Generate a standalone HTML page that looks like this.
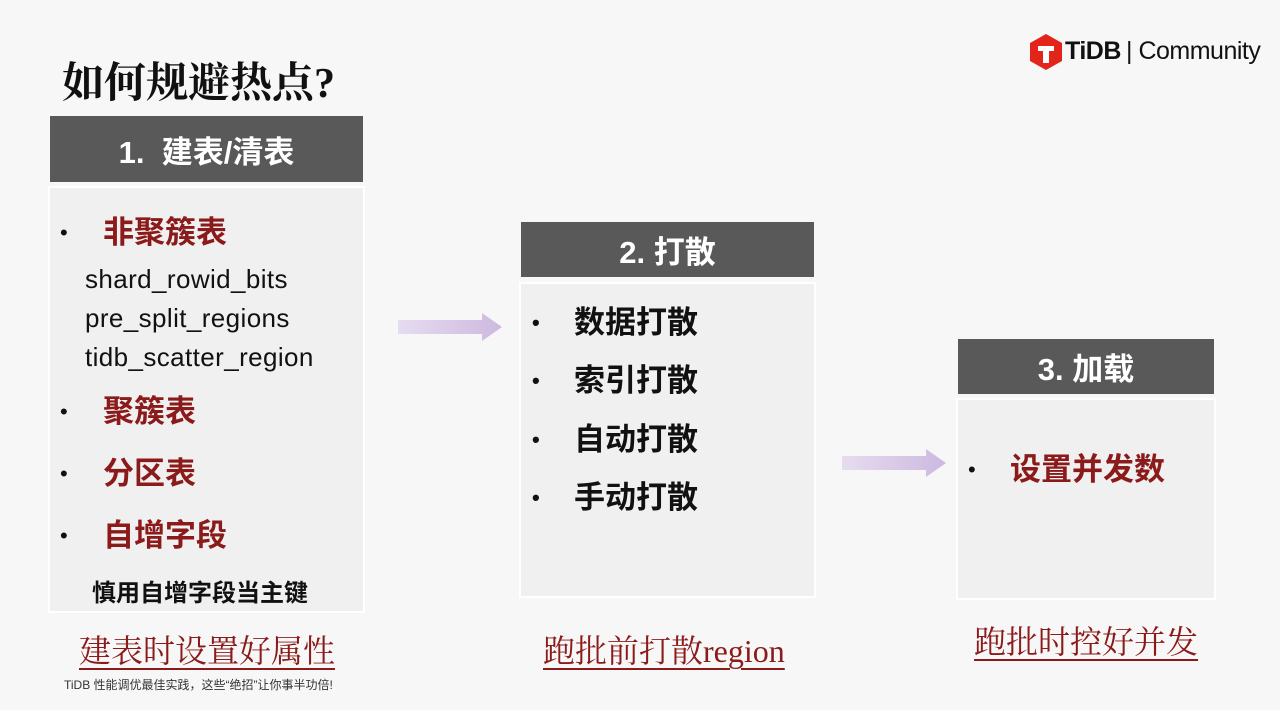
<html><head><style>
body{margin:0;width:1280px;height:710px;background:#f7f7f7;position:relative;overflow:hidden;font-family:"Liberation Sans","Noto Sans CJK SC",sans-serif}
.a{position:absolute}
.h{background:#595959;color:#fff;font-weight:bold;font-size:31px;display:flex;align-items:center;justify-content:center}
.b{background:#f0f0f0;border:2px solid #fff;box-sizing:border-box}
.red{color:#8b1a1a;font-weight:bold}
.t{font-size:31px;white-space:nowrap;line-height:36px}
.dot{position:absolute;left:0;font-size:22px;color:#111}
.u{font-family:"Liberation Serif","Noto Serif CJK SC",serif;color:#8b1a1a;font-size:32px;text-decoration:underline;text-decoration-thickness:2px;text-underline-offset:6px;white-space:nowrap}
</style></head><body>
<div class="a" style="left:62px;top:50px;font-size:42px;font-weight:bold;font-family:'Liberation Serif','Noto Serif CJK SC',serif;color:#111">如何规避热点?</div>
<svg class="a" style="left:1030px;top:34px" width="32" height="36" viewBox="0 0 32 36"><polygon points="16,0 32,9 32,27 16,36 0,27 0,9" fill="#e3241b"/><path d="M8 12h16v5h-5v12h-6V17H8z" fill="#fff"/></svg>
<div class="a" style="left:1065px;top:37px;font-size:25px;font-weight:bold;color:#111;letter-spacing:-0.5px">TiDB</div>
<div class="a" style="left:1126px;top:37px;font-size:25px;color:#111;letter-spacing:-0.5px">| Community</div>

<div class="a h" style="left:50px;top:116px;width:313px;height:66px">1.&nbsp; 建表/清表</div>
<div class="a b" style="left:48px;top:186px;width:317px;height:427px"></div>
<div class="a t" style="left:60px;top:215px;width:300px"><span class="dot">•</span><span class="red" style="margin-left:43px">非聚簇表</span></div>
<div class="a" style="left:85px;top:260px;font-size:26px;line-height:39px;color:#111;letter-spacing:0.4px">shard_rowid_bits<br>pre_split_regions<br>tidb_scatter_region</div>
<div class="a t" style="left:60px;top:394px;width:300px"><span class="dot">•</span><span class="red" style="margin-left:43px">聚簇表</span></div>
<div class="a t" style="left:60px;top:456px;width:300px"><span class="dot">•</span><span class="red" style="margin-left:43px">分区表</span></div>
<div class="a t" style="left:60px;top:518px;width:300px"><span class="dot">•</span><span class="red" style="margin-left:43px">自增字段</span></div>
<div class="a" style="left:92px;top:573px;font-size:24px;font-weight:bold;color:#111">慎用自增字段当主键</div>

<svg class="a" style="left:396px;top:311px" width="110" height="32"><defs><linearGradient id="g"><stop offset="0" stop-color="#e6dcef"/><stop offset="1" stop-color="#cdb9e0"/></linearGradient></defs><polygon points="2,9 86,9 86,2 106,16 86,30 86,23 2,23" fill="url(#g)"/></svg>
<svg class="a" style="left:840px;top:447px" width="110" height="32"><polygon points="2,9 86,9 86,2 106,16 86,30 86,23 2,23" fill="url(#g)"/></svg>

<div class="a h" style="left:521px;top:222px;width:293px;height:55px">2. 打散</div>
<div class="a b" style="left:519px;top:282px;width:297px;height:316px"></div>
<div class="a t" style="left:532px;top:305px;width:280px;font-weight:bold;color:#111"><span class="dot">•</span><span style="margin-left:42px">数据打散</span></div>
<div class="a t" style="left:532px;top:363px;width:280px;font-weight:bold;color:#111"><span class="dot">•</span><span style="margin-left:42px">索引打散</span></div>
<div class="a t" style="left:532px;top:422px;width:280px;font-weight:bold;color:#111"><span class="dot">•</span><span style="margin-left:42px">自动打散</span></div>
<div class="a t" style="left:532px;top:480px;width:280px;font-weight:bold;color:#111"><span class="dot">•</span><span style="margin-left:42px">手动打散</span></div>

<div class="a h" style="left:958px;top:339px;width:256px;height:55px">3. 加载</div>
<div class="a b" style="left:956px;top:398px;width:260px;height:202px"></div>
<div class="a t" style="left:968px;top:452px;width:240px"><span class="dot">•</span><span class="red" style="margin-left:42px">设置并发数</span></div>

<div class="a u" style="left:79px;top:626px">建表时设置好属性</div>
<div class="a u" style="left:543px;top:626px">跑批前打散region</div>
<div class="a u" style="left:974px;top:617px">跑批时控好并发</div>
<div class="a" style="left:64px;top:676px;font-size:12px;color:#333">TiDB 性能调优最佳实践，这些“绝招”让你事半功倍!</div>
</body></html>
